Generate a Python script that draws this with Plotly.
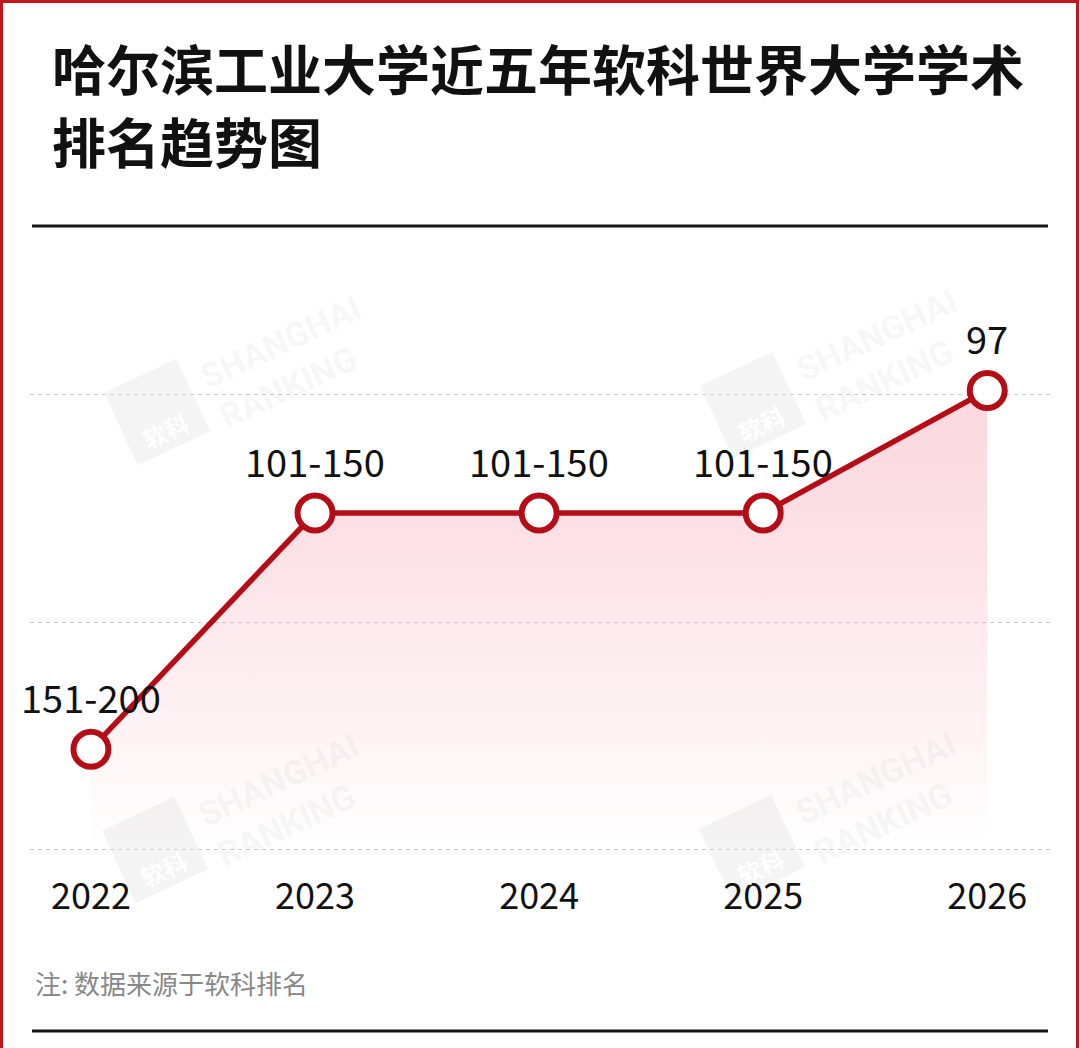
import math
import plotly.graph_objects as go

# data (rank positions, smaller = better)
years = ["2022", "2023", "2024", "2025", "2026"]
rank_pos = [178, 126, 126, 126, 99]
rank_labels = ["151-200", "101-150", "101-150", "101-150", "97"]
grid_vals = [100, 150, 200]

title_lines = ["哈尔滨工业大学近五年软科世界大学学术", "排名趋势图"]
note = "注: 数据来源于软科排名"

W, H = 1080, 1048
L, R, T, B = 30, 30, 300, 188
PW, PH = W - L - R, H - T - B
RED = "#b50d16"
CJK = "Noto Sans CJK SC"


def px(x):
    return (x - L) / PW


def py(y):
    return (H - B - y) / PH


x_idx = list(range(len(years)))

fig = go.Figure()

# baseline for the gradient fill
fig.add_trace(go.Scatter(
    x=x_idx, y=[grid_vals[-1]] * len(years),
    mode="lines", line=dict(width=0), hoverinfo="skip", showlegend=False
))
fig.add_trace(go.Scatter(
    x=x_idx, y=rank_pos,
    mode="lines", line=dict(width=0), fill="tonexty",
    fillgradient=dict(
        type="vertical",
        colorscale=[[0, "rgba(238,110,135,0.27)"], [0.35, "rgba(238,110,135,0.2)"],
                    [1, "rgba(238,110,135,0)"]],
        start=99, stop=200,
    ),
    hoverinfo="skip", showlegend=False
))

# main line
fig.add_trace(go.Scatter(
    x=x_idx, y=rank_pos,
    mode="lines+markers",
    line=dict(color=RED, width=5.5),
    marker=dict(size=35, color="white", line=dict(color=RED, width=6)),
    showlegend=False
))

shapes = []
# red border
shapes.append(dict(type="rect", xref="paper", yref="paper",
                   x0=px(1.5), x1=px(1077.5), y0=py(1070), y1=py(1.5),
                   line=dict(color="#c0161c", width=3), layer="above"))
# horizontal rules
for yy in (226, 1031):
    shapes.append(dict(type="line", xref="paper", yref="paper",
                       x0=px(32), x1=px(1048), y0=py(yy), y1=py(yy),
                       line=dict(color="#141414", width=3)))

# watermark logo boxes (rotated squares)
marks = [(157, 412), (753, 405), (155, 850), (752, 848)]
ang = math.radians(-25)
for cx, cy in marks:
    s = 40
    pts = []
    for dx, dy in [(-s, -s), (s, -s), (s, s), (-s, s)]:
        rx = cx + dx * math.cos(ang) - dy * math.sin(ang)
        ry = cy + dx * math.sin(ang) + dy * math.cos(ang)
        pts.append((px(rx), py(ry)))
    path = "M " + " L ".join(f"{a},{b}" for a, b in pts) + " Z"
    shapes.append(dict(type="path", xref="paper", yref="paper", path=path,
                       fillcolor="rgba(0,0,0,0.045)", line=dict(width=0), layer="below"))

annotations = []
annotations.append(dict(text=title_lines[0], x=px(50), y=py(68), xref="paper", yref="paper",
                        xanchor="left", yanchor="middle", showarrow=False,
                        font=dict(family=CJK, size=54, color="#111", weight="bold")))
annotations.append(dict(text=title_lines[1], x=px(50), y=py(141), xref="paper", yref="paper",
                        xanchor="left", yanchor="middle", showarrow=False,
                        font=dict(family=CJK, size=54, color="#111", weight="bold")))
annotations.append(dict(text=note, x=px(33), y=py(982), xref="paper", yref="paper",
                        xanchor="left", yanchor="middle", showarrow=False,
                        font=dict(family=CJK, size=26, color="#888")))

for cx, cy in marks:
    annotations.append(dict(text="软科", x=px(cx + 8), y=py(cy + 18), xref="paper", yref="paper",
                            xanchor="center", yanchor="middle",
                            showarrow=False, textangle=-25,
                            font=dict(family=CJK, size=24, color="white", weight="bold")))
    annotations.append(dict(text="SHANGHAI<br>RANKING", x=px(cx + 133), y=py(cy - 50),
                            xref="paper", yref="paper", showarrow=False, textangle=-25,
                            xanchor="center", yanchor="middle", align="left",
                            font=dict(family="Roboto", size=34, color="rgba(0,0,0,0.05)", weight="bold")))

# point labels
for i, lab in enumerate(rank_labels):
    annotations.append(dict(text=lab, x=x_idx[i], y=rank_pos[i], xref="x", yref="y",
                            showarrow=False, yshift=53, xanchor="center", yanchor="middle",
                            font=dict(family=CJK, size=38, color="#111")))

fig.update_layout(
    width=W, height=H,
    margin=dict(l=L, r=R, t=T, b=B),
    paper_bgcolor="white", plot_bgcolor="white",
    shapes=shapes, annotations=annotations,
    hovermode=False,
    xaxis=dict(
        range=[-0.272, 4.28],
        tickvals=x_idx, ticktext=years,
        tickfont=dict(family=CJK, size=36, color="#111"),
        showgrid=False, zeroline=False, showline=False, ticks="",
        ticklabelstandoff=12,
    ),
    yaxis=dict(
        range=[202.4, 79.1],
        tickvals=grid_vals, showticklabels=False,
        showgrid=True, gridcolor="#cfcfcf", griddash="4px,4px", gridwidth=1,
        zeroline=False, showline=False,
    ),
)

fig.write_html("out.html", config={"displayModeBar": False},
               post_script="document.body.style.margin='0';")
